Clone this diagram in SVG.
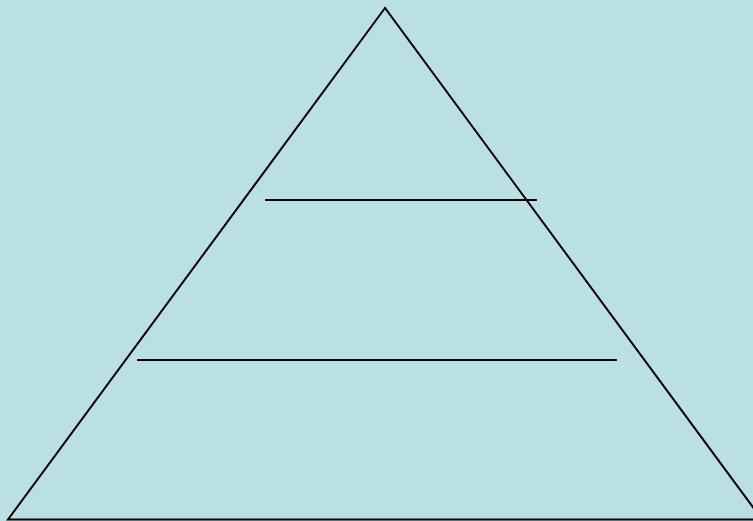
<svg xmlns="http://www.w3.org/2000/svg" width="753" height="521" viewBox="0 0 753 521">
<style>.ln{stroke:#000;stroke-width:2;fill:none}</style>
<rect width="753" height="521" fill="#BBE0E3"/>
<g id="pyramid"><polygon class="ln" points="385,8 8,519.5 762,519.5" stroke-linejoin="miter"/></g>
<g id="connectors">
<line class="ln" x1="265" y1="200" x2="537" y2="200"/>
<line class="ln" x1="137" y1="360" x2="617" y2="360"/>
</g>
</svg>
